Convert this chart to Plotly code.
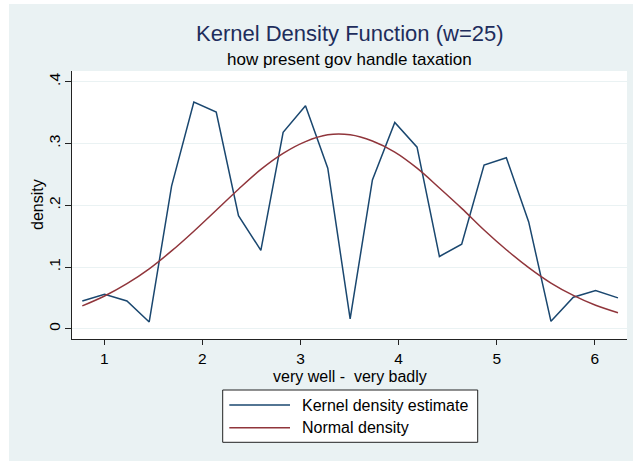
import plotly.graph_objects as go

# Evaluation grid (response scale: 1 = very well ... 6 = very badly)
grid_x = [0.776, 1.003, 1.231, 1.458, 1.686, 1.913, 2.141, 2.368, 2.596,
          2.823, 3.051, 3.278, 3.506, 3.733, 3.961, 4.188, 4.416, 4.643,
          4.871, 5.098, 5.326, 5.553, 5.781, 6.008, 6.236]

# Kernel density estimate at each grid point
kernel_density = [0.045, 0.056, 0.045, 0.011, 0.231, 0.367, 0.351, 0.183,
                  0.127, 0.318, 0.361, 0.260, 0.016, 0.241, 0.334, 0.294,
                  0.117, 0.137, 0.265, 0.277, 0.173, 0.012, 0.051, 0.062,
                  0.050]

# Normal density overlay at each grid point
normal_density = [0.037, 0.053, 0.073, 0.097, 0.126, 0.158, 0.192, 0.226,
                  0.258, 0.284, 0.303, 0.314, 0.314, 0.304, 0.286, 0.260,
                  0.228, 0.195, 0.160, 0.128, 0.099, 0.074, 0.054, 0.038,
                  0.026]

x_ticks = [1, 2, 3, 4, 5, 6]
y_ticks = [0, 0.1, 0.2, 0.3, 0.4]
y_tick_labels = ["0", ".1", ".2", ".3", ".4"]

series_names = ["Kernel density estimate", "Normal density"]

W, H = 633, 461
ML, MR, MT, MB = 72, 6, 71, 122
PW, PH = W - ML - MR, H - MT - MB

BG = "#EAF2F3"
NAVY = "#1A476F"
MAROON = "#90353B"
FONT = "Liberation Sans, Arial, Helvetica, sans-serif"


def px_x(px):
    return (px - ML) / PW


def px_y(py):
    return 1 + (MT - py) / PH


fig = go.Figure()
fig.add_trace(go.Scatter(x=grid_x, y=kernel_density, mode="lines",
                         line=dict(color=NAVY, width=1.5),
                         name=series_names[0], showlegend=False))
fig.add_trace(go.Scatter(x=grid_x, y=normal_density, mode="lines",
                         line=dict(color=MAROON, width=1.5, shape="spline"),
                         name=series_names[1], showlegend=False))

shapes = [
    # white outer border strips
    dict(type="rect", xref="paper", yref="paper", layer="above",
         x0=px_x(0), x1=px_x(9), y0=px_y(H), y1=px_y(0),
         fillcolor="white", line=dict(width=0)),
    dict(type="rect", xref="paper", yref="paper", layer="above",
         x0=px_x(0), x1=px_x(W), y0=px_y(4), y1=px_y(0),
         fillcolor="white", line=dict(width=0)),
    # legend box
    dict(type="rect", xref="paper", yref="paper",
         x0=px_x(222.7), x1=px_x(477.7), y0=px_y(442.3), y1=px_y(390),
         fillcolor="white", line=dict(color="#222222", width=1)),
]
annotations = [
    dict(text="Kernel Density Function (w=25)", xref="paper", yref="paper",
         x=0.5, y=px_y(33.4), xanchor="center", yanchor="middle",
         showarrow=False, font=dict(family=FONT, size=22, color="#1E2D5C")),
    dict(text="how present gov handle taxation", xref="paper", yref="paper",
         x=0.5, y=px_y(59.5), xanchor="center", yanchor="middle",
         showarrow=False, font=dict(family=FONT, size=17, color="black")),
    # axis titles placed explicitly
    dict(text="density", xref="paper", yref="paper",
         x=px_x(37), y=0.5, xanchor="center", yanchor="middle",
         textangle=-90, showarrow=False,
         font=dict(family=FONT, size=16, color="black")),
    dict(text="very well -  very badly", xref="paper", yref="paper",
         x=0.5, y=px_y(376), xanchor="center", yanchor="middle",
         showarrow=False, font=dict(family=FONT, size=16, color="black")),
]

# legend entries
for name, color, ly in zip(series_names, [NAVY, MAROON], [405, 427.7]):
    shapes.append(dict(type="line", xref="paper", yref="paper",
                       x0=px_x(229.3), x1=px_x(290), y0=px_y(ly), y1=px_y(ly),
                       line=dict(color=color, width=1.5)))
    annotations.append(dict(text=name, xref="paper", yref="paper",
                            x=px_x(300), y=px_y(ly), xanchor="left",
                            yanchor="middle", showarrow=False,
                            font=dict(family=FONT, size=16, color="black")))

fig.update_layout(
    width=W, height=H,
    margin=dict(l=ML, r=MR, t=MT, b=MB),
    paper_bgcolor=BG, plot_bgcolor="white",
    font=dict(family=FONT, size=16, color="black"),
    shapes=shapes, annotations=annotations,
    showlegend=False,
)
fig.update_xaxes(
    range=[0.671, 6.328], tickvals=x_ticks, ticktext=[str(t) for t in x_ticks],
    showgrid=False, zeroline=False, showline=True, linecolor="#222222",
    linewidth=1, ticks="outside", ticklen=5, tickcolor="#222222",
    tickfont=dict(size=15.5),
)
fig.update_yaxes(
    range=[-0.0166, 0.4174], tickvals=y_ticks, ticktext=y_tick_labels,
    tickangle=-90, showgrid=True, gridcolor=BG, gridwidth=1.2,
    zeroline=False, showline=True, linecolor="#222222", linewidth=1,
    ticks="outside", ticklen=6, tickcolor="#222222",
    tickfont=dict(size=15.5), ticklabelstandoff=-1,
)

fig.write_html("out.html")
